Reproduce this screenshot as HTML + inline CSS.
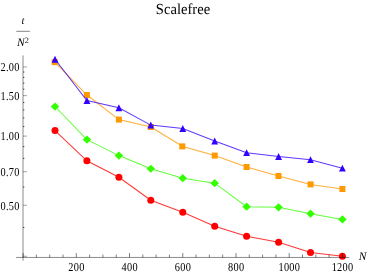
<!DOCTYPE html>
<html><head><meta charset="utf-8"><title>Scalefree</title>
<style>html,body{margin:0;padding:0;background:#fff;}body{width:367px;height:273px;overflow:hidden;position:relative;font-family:"Liberation Serif",serif;}</style></head>
<body>
<svg width="367" height="273" viewBox="0 0 367 273" style="position:absolute;left:0;top:0;will-change:transform">
<rect width="367" height="273" fill="#fff"/>
<polyline points="55.0,130.6 86.9,160.8 118.9,177.3 150.8,200.2 182.8,212.3 214.7,226.3 246.6,236.2 278.6,242.2 310.5,252.6 342.4,256.2" fill="none" stroke="#f00" stroke-width="1.05" stroke-opacity="0.78"/>
<circle cx="55.0" cy="130.6" r="3.5" fill="#f00"/>
<circle cx="86.9" cy="160.8" r="3.5" fill="#f00"/>
<circle cx="118.9" cy="177.3" r="3.5" fill="#f00"/>
<circle cx="150.8" cy="200.2" r="3.5" fill="#f00"/>
<circle cx="182.8" cy="212.3" r="3.5" fill="#f00"/>
<circle cx="214.7" cy="226.3" r="3.5" fill="#f00"/>
<circle cx="246.6" cy="236.2" r="3.5" fill="#f00"/>
<circle cx="278.6" cy="242.2" r="3.5" fill="#f00"/>
<circle cx="310.5" cy="252.6" r="3.5" fill="#f00"/>
<circle cx="342.4" cy="256.2" r="3.5" fill="#f00"/>
<polyline points="55.0,106.5 86.9,139.6 118.9,155.6 150.8,168.8 182.8,178.2 214.7,183.2 246.6,206.7 278.6,207.3 310.5,213.7 342.4,219.4" fill="none" stroke="#33ff00" stroke-width="1.05" stroke-opacity="0.78"/>
<path d="M50.76 106.55L55.01 102.45L59.26 106.55L55.01 110.65Z" fill="#33ff00"/>
<path d="M82.70 139.60L86.95 135.50L91.20 139.60L86.95 143.70Z" fill="#33ff00"/>
<path d="M114.63 155.55L118.88 151.45L123.13 155.55L118.88 159.65Z" fill="#33ff00"/>
<path d="M146.57 168.75L150.82 164.65L155.07 168.75L150.82 172.85Z" fill="#33ff00"/>
<path d="M178.50 178.15L182.75 174.05L187.00 178.15L182.75 182.25Z" fill="#33ff00"/>
<path d="M210.44 183.20L214.69 179.10L218.94 183.20L214.69 187.30Z" fill="#33ff00"/>
<path d="M242.37 206.70L246.62 202.60L250.87 206.70L246.62 210.80Z" fill="#33ff00"/>
<path d="M274.31 207.30L278.56 203.20L282.81 207.30L278.56 211.40Z" fill="#33ff00"/>
<path d="M306.24 213.70L310.49 209.60L314.74 213.70L310.49 217.80Z" fill="#33ff00"/>
<path d="M338.17 219.40L342.42 215.30L346.67 219.40L342.42 223.50Z" fill="#33ff00"/>
<polyline points="55.0,62.1 86.9,95.0 118.9,119.6 150.8,127.0 182.8,146.4 214.7,155.6 246.6,167.0 278.6,176.0 310.5,184.4 342.4,189.0" fill="none" stroke="#ff9900" stroke-width="1.05" stroke-opacity="0.78"/>
<rect x="51.7" y="59.1" width="6.0" height="6.0" fill="#ff9900"/>
<rect x="83.9" y="92.0" width="6.0" height="6.0" fill="#ff9900"/>
<rect x="115.9" y="116.6" width="6.0" height="6.0" fill="#ff9900"/>
<rect x="147.8" y="124.0" width="6.0" height="6.0" fill="#ff9900"/>
<rect x="179.3" y="143.4" width="6.0" height="6.0" fill="#ff9900"/>
<rect x="211.7" y="152.6" width="6.0" height="6.0" fill="#ff9900"/>
<rect x="243.6" y="164.0" width="6.0" height="6.0" fill="#ff9900"/>
<rect x="275.5" y="173.0" width="6.0" height="6.0" fill="#ff9900"/>
<rect x="307.6" y="181.4" width="6.0" height="6.0" fill="#ff9900"/>
<rect x="339.4" y="186.0" width="6.0" height="6.0" fill="#ff9900"/>
<polyline points="55.0,59.2 86.9,100.5 118.9,107.8 150.8,125.1 182.8,128.5 214.7,141.0 246.6,152.7 278.6,156.6 310.5,159.7 342.4,168.2" fill="none" stroke="#3300ff" stroke-width="1.05" stroke-opacity="0.78"/>
<path d="M55.0 55.7L51.6 62.7L58.4 62.7Z" fill="#3300ff"/>
<path d="M86.9 97.0L83.5 104.0L90.4 104.0Z" fill="#3300ff"/>
<path d="M118.9 104.3L115.5 111.2L122.3 111.2Z" fill="#3300ff"/>
<path d="M150.8 121.6L147.4 128.5L154.2 128.5Z" fill="#3300ff"/>
<path d="M182.8 125.0L179.3 131.9L186.2 131.9Z" fill="#3300ff"/>
<path d="M214.7 137.5L211.3 144.4L218.1 144.4Z" fill="#3300ff"/>
<path d="M246.6 149.2L243.2 156.1L250.0 156.1Z" fill="#3300ff"/>
<path d="M278.6 153.1L275.1 160.0L282.0 160.0Z" fill="#3300ff"/>
<path d="M310.5 156.2L307.1 163.1L313.9 163.1Z" fill="#3300ff"/>
<path d="M342.4 164.7L339.0 171.6L345.8 171.6Z" fill="#3300ff"/>
<g stroke="#000" fill="none">
<line x1="23.00" y1="55.4" x2="23.00" y2="260.7" stroke-width="0.46"/>
<line x1="16.1" y1="257.45" x2="349.3" y2="257.45" stroke-width="0.46"/>
<line x1="23.00" y1="66.92" x2="27.00" y2="66.92" stroke-width="0.36"/>
<line x1="23.00" y1="95.63" x2="27.00" y2="95.63" stroke-width="0.36"/>
<line x1="23.00" y1="136.10" x2="27.00" y2="136.10" stroke-width="0.36"/>
<line x1="23.00" y1="171.70" x2="27.00" y2="171.70" stroke-width="0.36"/>
<line x1="23.00" y1="205.28" x2="27.00" y2="205.28" stroke-width="0.36"/>
<line x1="23.00" y1="256.26" x2="27.00" y2="256.26" stroke-width="0.36"/>
<line x1="23.08" y1="257.45" x2="23.08" y2="253.05" stroke-width="0.5"/>
<line x1="76.30" y1="257.45" x2="76.30" y2="253.05" stroke-width="0.5"/>
<line x1="129.53" y1="257.45" x2="129.53" y2="253.05" stroke-width="0.5"/>
<line x1="182.75" y1="257.45" x2="182.75" y2="253.05" stroke-width="0.5"/>
<line x1="235.98" y1="257.45" x2="235.98" y2="253.05" stroke-width="0.5"/>
<line x1="289.20" y1="257.45" x2="289.20" y2="253.05" stroke-width="0.5"/>
<line x1="342.42" y1="257.45" x2="342.42" y2="253.05" stroke-width="0.5"/>
<line x1="23.00" y1="227.55" x2="24.35" y2="227.55" stroke-width="0.7"/>
<line x1="23.00" y1="187.08" x2="24.35" y2="187.08" stroke-width="0.7"/>
<line x1="23.00" y1="158.37" x2="24.35" y2="158.37" stroke-width="0.7"/>
<line x1="23.00" y1="146.61" x2="24.35" y2="146.61" stroke-width="0.7"/>
<line x1="23.00" y1="126.59" x2="24.35" y2="126.59" stroke-width="0.7"/>
<line x1="23.00" y1="117.90" x2="24.35" y2="117.90" stroke-width="0.7"/>
<line x1="23.00" y1="109.92" x2="24.35" y2="109.92" stroke-width="0.7"/>
<line x1="23.00" y1="102.52" x2="24.35" y2="102.52" stroke-width="0.7"/>
<line x1="23.00" y1="89.19" x2="24.35" y2="89.19" stroke-width="0.7"/>
<line x1="23.00" y1="83.14" x2="24.35" y2="83.14" stroke-width="0.7"/>
<line x1="23.00" y1="77.44" x2="24.35" y2="77.44" stroke-width="0.7"/>
<line x1="23.00" y1="72.04" x2="24.35" y2="72.04" stroke-width="0.7"/>
<line x1="36.39" y1="257.45" x2="36.39" y2="254.55" stroke-width="0.5"/>
<line x1="49.69" y1="257.45" x2="49.69" y2="254.55" stroke-width="0.5"/>
<line x1="63.00" y1="257.45" x2="63.00" y2="254.55" stroke-width="0.5"/>
<line x1="89.61" y1="257.45" x2="89.61" y2="254.55" stroke-width="0.5"/>
<line x1="102.92" y1="257.45" x2="102.92" y2="254.55" stroke-width="0.5"/>
<line x1="116.22" y1="257.45" x2="116.22" y2="254.55" stroke-width="0.5"/>
<line x1="142.83" y1="257.45" x2="142.83" y2="254.55" stroke-width="0.5"/>
<line x1="156.14" y1="257.45" x2="156.14" y2="254.55" stroke-width="0.5"/>
<line x1="169.45" y1="257.45" x2="169.45" y2="254.55" stroke-width="0.5"/>
<line x1="196.06" y1="257.45" x2="196.06" y2="254.55" stroke-width="0.5"/>
<line x1="209.36" y1="257.45" x2="209.36" y2="254.55" stroke-width="0.5"/>
<line x1="222.67" y1="257.45" x2="222.67" y2="254.55" stroke-width="0.5"/>
<line x1="249.28" y1="257.45" x2="249.28" y2="254.55" stroke-width="0.5"/>
<line x1="262.59" y1="257.45" x2="262.59" y2="254.55" stroke-width="0.5"/>
<line x1="275.89" y1="257.45" x2="275.89" y2="254.55" stroke-width="0.5"/>
<line x1="302.51" y1="257.45" x2="302.51" y2="254.55" stroke-width="0.5"/>
<line x1="315.81" y1="257.45" x2="315.81" y2="254.55" stroke-width="0.5"/>
<line x1="329.12" y1="257.45" x2="329.12" y2="254.55" stroke-width="0.5"/>
</g>
<g font-family="Liberation Serif, serif" fill="#000" text-rendering="geometricPrecision">
<text transform="translate(183.00,13.65) scale(1.000,1.050)" font-size="14.60" text-anchor="middle">Scalefree</text>
<text transform="translate(19.78,71.22) scale(1.000,1.175)" font-size="10.30" text-anchor="end" letter-spacing="0.33">2.00</text>
<text transform="translate(19.78,99.93) scale(1.000,1.175)" font-size="10.30" text-anchor="end" letter-spacing="0.33">1.50</text>
<text transform="translate(19.78,140.40) scale(1.000,1.175)" font-size="10.30" text-anchor="end" letter-spacing="0.33">1.00</text>
<text transform="translate(19.78,176.00) scale(1.000,1.175)" font-size="10.30" text-anchor="end" letter-spacing="0.33">0.70</text>
<text transform="translate(19.78,209.58) scale(1.000,1.175)" font-size="10.30" text-anchor="end" letter-spacing="0.33">0.50</text>
<text transform="translate(76.47,270.60) scale(1.000,1.175)" font-size="10.30" text-anchor="middle" letter-spacing="0.33">200</text>
<text transform="translate(129.69,270.60) scale(1.000,1.175)" font-size="10.30" text-anchor="middle" letter-spacing="0.33">400</text>
<text transform="translate(182.92,270.60) scale(1.000,1.175)" font-size="10.30" text-anchor="middle" letter-spacing="0.33">600</text>
<text transform="translate(236.14,270.60) scale(1.000,1.175)" font-size="10.30" text-anchor="middle" letter-spacing="0.33">800</text>
<text transform="translate(289.37,270.60) scale(1.000,1.175)" font-size="10.30" text-anchor="middle" letter-spacing="0.33">1000</text>
<text transform="translate(342.59,270.60) scale(1.000,1.175)" font-size="10.30" text-anchor="middle" letter-spacing="0.33">1200</text>
<text transform="translate(358.70,260.00) scale(1.000,1.000)" font-size="11.50" text-anchor="start" font-style="italic">N</text>
<text transform="translate(21.60,24.00) scale(1.000,1.000)" font-size="10.50" text-anchor="start" font-style="italic">t</text>
<text transform="translate(17.00,45.60) scale(1.000,1.000)" font-size="11.60" text-anchor="start" font-style="italic">N</text>
<text transform="translate(24.65,42.80) scale(1.000,1.000)" font-size="8.30" text-anchor="start">2</text>
</g>
<line x1="16.3" y1="31.3" x2="29.9" y2="31.3" stroke="#666" stroke-width="0.8"/>
</svg>
</body></html>
